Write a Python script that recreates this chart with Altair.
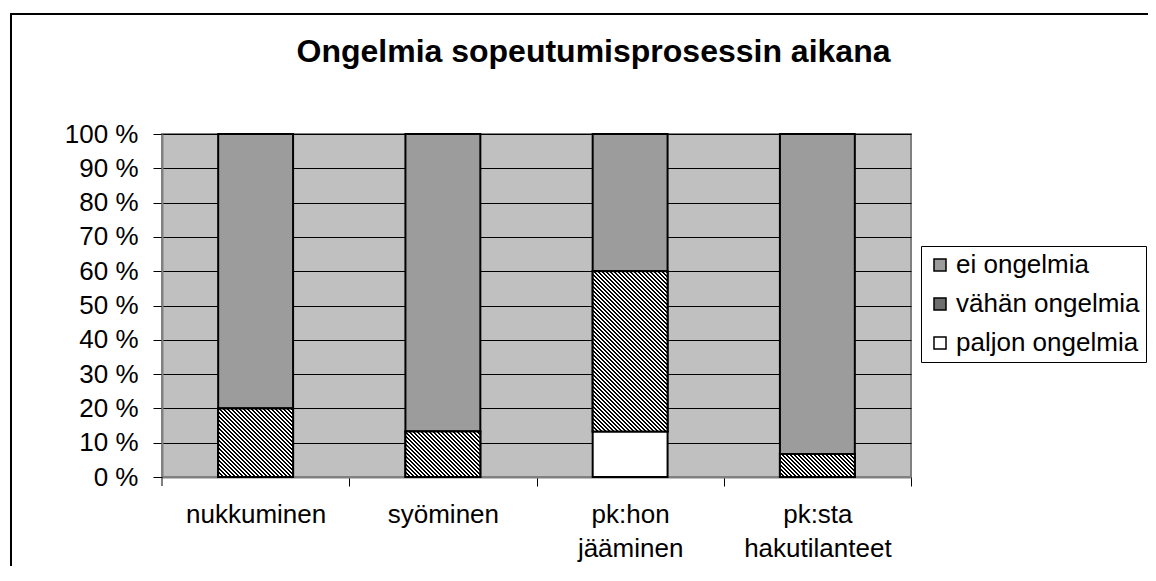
import altair as alt
import pandas as pd

# ---- data ----
categories = ["nukkuminen", "syöminen", "pk:hon jääminen", "pk:sta hakutilanteet"]
series_names = ["ei ongelmia", "vähän ongelmia", "paljon ongelmia"]
ei_ongelmia = [80.0, 86.7, 40.0, 93.3]
vahan_ongelmia = [20.0, 13.3, 46.7, 6.7]
paljon_ongelmia = [0.0, 0.0, 13.3, 0.0]
y_ticks = [0, 0.1, 0.2, 0.3, 0.4, 0.5, 0.6, 0.7, 0.8, 0.9, 1.0]
chart_title = "Ongelmia sopeutumisprosessin aikana"

# ---- layout / style ----
W, H = 749, 343
FONT = "Liberation Sans"
PAD_INNER, PAD_OUTER = 0.6, 0.3
STEP = W / (len(categories) - PAD_INNER + 2 * PAD_OUTER)
BANDW = STEP * (1 - PAD_INNER)

rows = []
for s_idx, (name, vals) in enumerate(zip(series_names, [ei_ongelmia, vahan_ongelmia, paljon_ongelmia])):
    for c, v in zip(categories, vals):
        rows.append({"category": c, "series": name, "value": v, "ord": 2 - s_idx})
df = pd.DataFrame(rows)


def hatch_gradient(w, h, period=4.0, black=2.0):
    """Diagonal '\\' hatch as a striped linear gradient in bbox units."""
    k = (w + h) / (w * w + h * h)
    total = w + h
    stops = []
    d = 0.0
    while d < total:
        a = d / total
        b = min((d + black) / total, 1.0)
        c = min((d + period) / total, 1.0)
        stops += [alt.GradientStop(offset=a, color="#000000"),
                  alt.GradientStop(offset=b, color="#000000"),
                  alt.GradientStop(offset=b, color="#ffffff"),
                  alt.GradientStop(offset=c, color="#ffffff")]
        d += period
    return alt.LinearGradient(gradient="linear", stops=stops,
                              x1=0, y1=1, x2=k * w, y2=1 - k * h)


x_scale = alt.Scale(domain=categories, paddingInner=PAD_INNER, paddingOuter=PAD_OUTER)
y_scale = alt.Scale(domain=[0, 1])
x_axis = alt.Axis(title=None, labelAngle=0, grid=False, tickSize=9,
                  tickOffset=STEP / 2, labelOffset=-STEP / 2,
                  labelExpr="split(datum.label, ' ')", labelLineHeight=34,
                  labelPadding=15, labelFontSize=26)
y_axis = alt.Axis(title=None, values=y_ticks, grid=True, tickSize=9, labelPadding=15,
                  labelExpr="format(datum.value * 100, '.0f') + ' %'", labelFontSize=26)

base = alt.Chart(df).transform_filter("datum.value > 0")

bars = base.mark_bar(stroke="black", strokeWidth=2).encode(
    x=alt.X("category:N", scale=x_scale, axis=x_axis, sort=categories),
    y=alt.Y("value:Q", stack="normalize", scale=y_scale, axis=y_axis),
    color=alt.Color("series:N",
                    scale=alt.Scale(domain=series_names, range=["#9c9c9c", "#6e6e6e", "#ffffff"]),
                    legend=alt.Legend(title=None, orient="none", legendX=759, legendY=112)),
    order=alt.Order("ord:Q", sort="ascending"),
)

layers = [bars]
for cat, v in zip(categories, vahan_ongelmia):
    if v <= 0:
        continue
    h = v / 100.0 * H
    ov = (base
          .transform_stack(stack="value", groupby=["category"], as_=["y0", "y1"],
                           offset="normalize", sort=[alt.SortField("ord", order="ascending")])
          .transform_filter(f"datum.category == '{cat}' && datum.series == 'vähän ongelmia'")
          .mark_bar(fill=hatch_gradient(BANDW, h), stroke="black", strokeWidth=2)
          .encode(x=alt.X("category:N", scale=x_scale, axis=x_axis, sort=categories),
                  y=alt.Y("y0:Q", scale=y_scale, axis=y_axis),
                  y2="y1:Q"))
    layers.append(ov)

one = pd.DataFrame({"t": [chart_title]})
left_tick = alt.Chart(one).mark_rule(color="black", strokeWidth=1).encode(
    x=alt.value(0), y=alt.value(H), y2=alt.value(H + 9))
frame = alt.Chart(one).mark_rect(filled=False, stroke="black", strokeWidth=2).encode(
    x=alt.value(-151), x2=alt.value(1200), y=alt.value(-120), y2=alt.value(700))
title = alt.Chart(one).mark_text(font=FONT, fontSize=32, fontWeight="bold", align="center",
                                 baseline="alphabetic", color="black").encode(
    text="t:N", x=alt.value(431.5), y=alt.value(-72))

chart = alt.layer(frame, *layers, left_tick, title).properties(
    width=W, height=H,
    autosize=alt.AutoSizeParams(type="none"),
    padding={"left": 154, "top": 126, "right": 237, "bottom": 89},
    background="white",
).configure_view(
    fill="#c0c0c0", stroke="#808080", strokeWidth=2
).configure_axis(
    labelFont=FONT, labelColor="black", tickColor="black", domainColor="#808080",
    domainWidth=2, tickWidth=1, gridColor="black", gridWidth=1,
).configure_legend(
    strokeColor="black", fillColor="white", padding=6, labelFont=FONT, labelFontSize=26,
    labelColor="black", symbolType="square", symbolSize=144, symbolStrokeColor="black",
    symbolStrokeWidth=1.5, rowPadding=13, labelOffset=3, cornerRadius=0, labelLimit=400,
)

chart.save("out.html", embed_options={"renderer": "svg", "actions": False})
